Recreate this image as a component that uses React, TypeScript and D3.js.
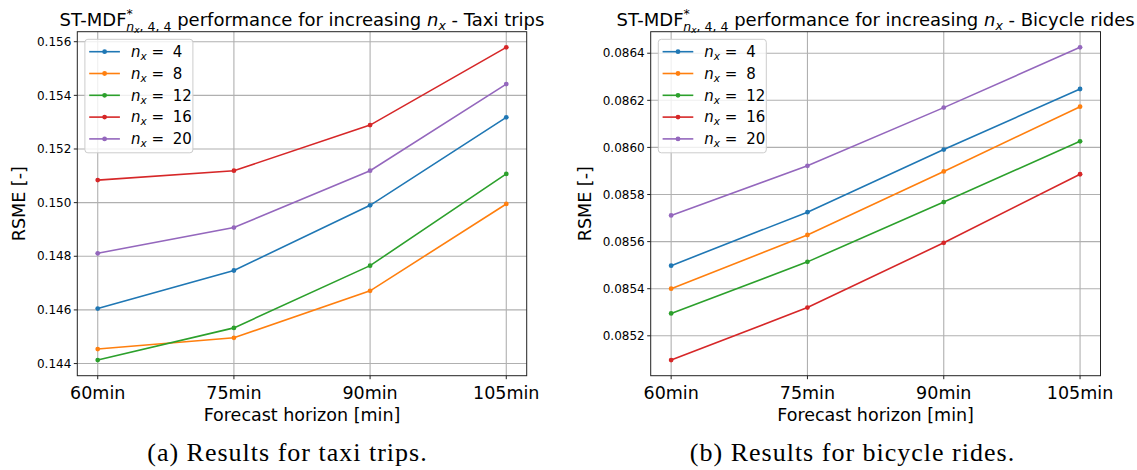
import React from 'react';
import * as d3 from 'd3';

// forecast horizons (x categories)
const horizons = ['60min', '75min', '90min', '105min'];
const nxValues = ['4', '8', '12', '16', '20'];
const colors = ['#1f77b4', '#ff7f0e', '#2ca02c', '#d62728', '#9467bd'];

// RSME, taxi trips
const taxi4 = [0.14605, 0.14747, 0.1499, 0.15318];
const taxi8 = [0.14454, 0.14496, 0.14671, 0.14995];
const taxi12 = [0.14413, 0.14533, 0.14765, 0.15107];
const taxi16 = [0.15084, 0.15119, 0.15289, 0.15579];
const taxi20 = [0.14811, 0.14907, 0.15119, 0.15442];

// RSME, bicycle rides
const bike4 = [0.085498, 0.085725, 0.085991, 0.086248];
const bike8 = [0.0854, 0.085628, 0.085898, 0.086173];
const bike12 = [0.085295, 0.085514, 0.085768, 0.086026];
const bike16 = [0.085097, 0.08532, 0.085595, 0.085886];
const bike20 = [0.085711, 0.085922, 0.086169, 0.086425];

const taxiTicks = [0.144, 0.146, 0.148, 0.15, 0.152, 0.154, 0.156];
const bikeTicks = [0.0852, 0.0854, 0.0856, 0.0858, 0.086, 0.0862, 0.0864];

const SANS = 'DejaVu Sans, sans-serif';

function Panel({ left, right, top, bottom, series, ticks, digits, ylabelX, name, caption, captionX }) {
  const all = series.flat();
  const [lo, hi] = d3.extent(all);
  const pad = (hi - lo) * 0.05;
  const y = d3.scaleLinear().domain([lo - pad, hi + pad]).range([bottom, top]);
  const x = d3.scalePoint().domain(horizons).range([left, right]).padding(0.15);
  const line = d3.line().x((d, i) => x(horizons[i])).y(d => y(d));
  const cx = (left + right) / 2;
  const cy = (top + bottom) / 2;
  const legX = left + 7.6;
  const legY = top + 7.6;

  return (
    <g>
      {/* grid */}
      {horizons.map(h => (
        <line key={h} x1={x(h)} x2={x(h)} y1={top} y2={bottom} stroke="#b0b0b0" strokeWidth={1.1} />
      ))}
      {ticks.map(t => (
        <line key={t} x1={left} x2={right} y1={y(t)} y2={y(t)} stroke="#b0b0b0" strokeWidth={1.1} />
      ))}

      {/* series */}
      {series.map((s, k) => (
        <g key={k}>
          <path d={line(s)} fill="none" stroke={colors[k]} strokeWidth={1.6} />
          {s.map((v, i) => (
            <circle key={i} cx={x(horizons[i])} cy={y(v)} r={2.4} fill={colors[k]} />
          ))}
        </g>
      ))}

      {/* frame */}
      <rect x={left} y={top} width={right - left} height={bottom - top} fill="none" stroke="#222" strokeWidth={1} />

      {/* y axis */}
      {ticks.map(t => (
        <g key={t}>
          <line x1={left - 3.5} x2={left} y1={y(t)} y2={y(t)} stroke="#222" />
          <text x={left - 6} y={y(t)} dy="0.35em" textAnchor="end" fontSize={12} fontFamily={SANS}>
            {t.toFixed(digits)}
          </text>
        </g>
      ))}
      <text transform={`translate(${ylabelX},${cy}) rotate(-90)`} textAnchor="middle" fontSize={17.5} fontFamily={SANS}>
        RSME [-]
      </text>

      {/* x axis */}
      {horizons.map(h => (
        <g key={h}>
          <line x1={x(h)} x2={x(h)} y1={bottom} y2={bottom + 3.5} stroke="#222" />
          <text x={x(h)} y={399} textAnchor="middle" fontSize={17.5} fontFamily={SANS}>{h}</text>
        </g>
      ))}
      <text x={cx} y={420.5} textAnchor="middle" fontSize={17.5} fontFamily={SANS}>Forecast horizon [min]</text>

      {/* title */}
      <text x={cx} y={26} textAnchor="middle" fontSize={18} fontFamily={SANS}>
        ST-MDF
        <tspan dy={-8} fontSize={12.5}>*</tspan>
        <tspan dx={-6.5} dy={13} fontSize={12.5} fontStyle="italic">n</tspan>
        <tspan dy={2} fontSize={9} fontStyle="italic">x</tspan>
        <tspan dy={-2} fontSize={12.5}>{', 4, 4'}</tspan>
        <tspan dy={-5}>{' performance for increasing '}</tspan>
        <tspan fontStyle="italic">n</tspan>
        <tspan dy={4} fontSize={12.5} fontStyle="italic">x</tspan>
        <tspan dy={-4}>{' - ' + name}</tspan>
      </text>

      {/* legend */}
      <rect x={legX} y={legY} width={108} height={113.5} rx={3} fill="#fff" fillOpacity={0.8} stroke="#cccccc" />
      {nxValues.map((n, k) => {
        const ly = legY + 12.4 + k * 21.8;
        return (
          <g key={n}>
            <line x1={legX + 4.3} x2={legX + 35} y1={ly} y2={ly} stroke={colors[k]} strokeWidth={1.6} />
            <circle cx={legX + 19.7} cy={ly} r={2.4} fill={colors[k]} />
            <text x={legX + 46} y={ly} dy="0.35em" fontSize={15} fontFamily={SANS}>
              <tspan fontStyle="italic">n</tspan>
              <tspan dy={3} fontSize={10.5} fontStyle="italic">x</tspan>
              <tspan dy={-3}>{' = '}</tspan>
              <tspan dx={4}>{n}</tspan>
            </text>
          </g>
        );
      })}

      {/* caption */}
      <text x={captionX} y={461} textAnchor="middle" fontSize={26} letterSpacing={1} fontFamily="Liberation Serif, serif">
        {caption}
      </text>
    </g>
  );
}

export default function App() {
  return (
    <div style={{ position: 'fixed', left: 0, top: 0, background: '#fff' }}>
      <svg width={1137} height={470} style={{ display: 'block' }}>
        <rect width={1137} height={470} fill="#fff" />
        <Panel
          left={77.3} right={526.7} top={31.7} bottom={375.7}
          series={[taxi4, taxi8, taxi12, taxi16, taxi20]}
          ticks={taxiTicks} digits={3} ylabelX={25}
          name="Taxi trips" caption="(a) Results for taxi trips." captionX={287.5}
        />
        <Panel
          left={650.7} right={1100.5} top={31.7} bottom={375.7}
          series={[bike4, bike8, bike12, bike16, bike20]}
          ticks={bikeTicks} digits={4} ylabelX={591}
          name="Bicycle rides" caption="(b) Results for bicycle rides." captionX={852.5}
        />
      </svg>
    </div>
  );
}
